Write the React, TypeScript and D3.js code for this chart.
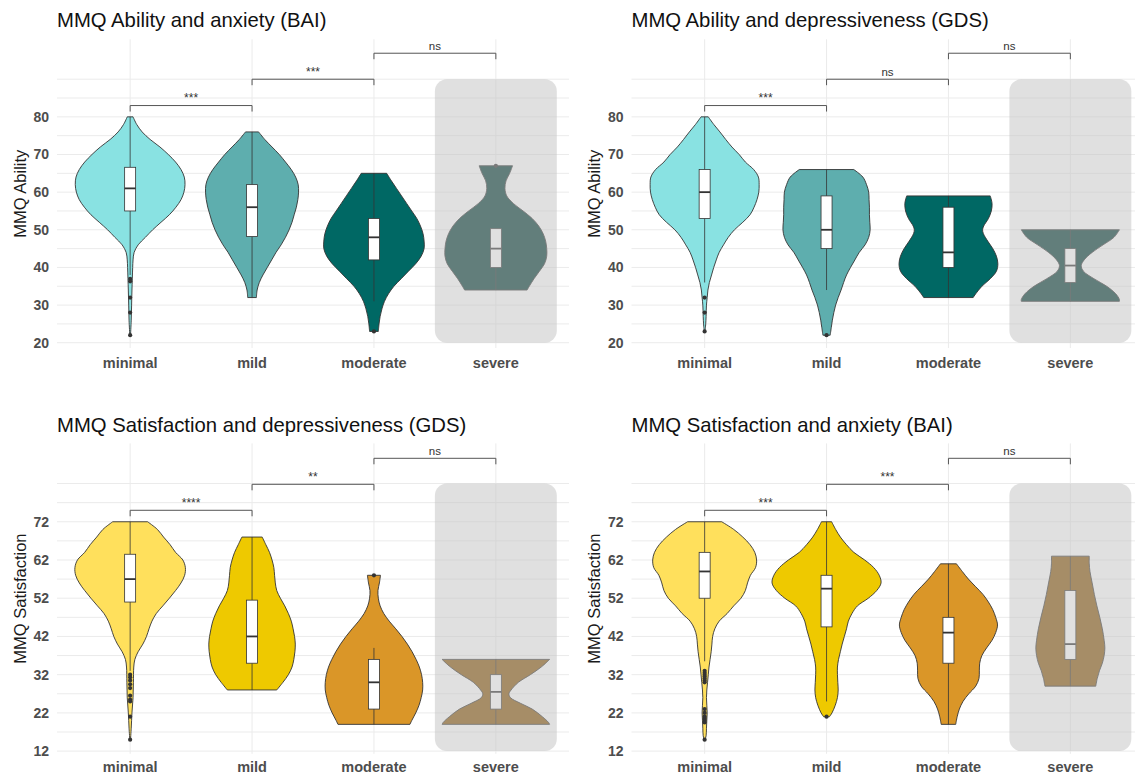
import React from "react";
import * as d3 from "d3";

const categories = ["minimal", "mild", "moderate", "severe"];

const abilityTicks = [20, 30, 40, 50, 60, 70, 80];
const abilityGrid = [20, 25, 30, 35, 40, 45, 50, 55, 60, 65, 70, 75, 80, 85, 90];
const satisfactionTicks = [12, 22, 32, 42, 52, 62, 72];
const satisfactionGrid = [12, 17, 22, 27, 32, 37, 42, 47, 52, 57, 62, 67, 72, 77, 82];

const tealPalette = ["#89E2E2", "#5EAEAE", "#006864", "#023A34"];
const goldPalette = ["#FFE05C", "#EEC900", "#DA9628", "#8A580C"];

// violin outlines: [score, half-width (density units)]
const abilityBAIViolins: [number, number][][] = [
  [[80,8],[78,18],[76,33],[74,55],[72,82],[70,105],[68,125],[66,140],[64,149],[62,151],[60,148],[58,140],[56,126],[54,108],[52,85],[50,62],[48,42],[46,22],[44,11],[42,8],[40,7],[37,6],[34,5],[30,4],[26,3],[22,1]],
  [[76,18],[74,35],[72,55],[70,75],[68,92],[66,108],[64,120],[62,127],[60,128],[58,126],[56,122],[54,116],[52,110],[50,102],[48,92],[46,80],[44,66],[42,54],[40,42],[38,30],[36,20],[34,14],[32,12]],
  [[65,35],[63,48],[61,62],[59,76],[57,90],[55,104],[53,118],[51,128],[49,135],[47,138],[45,138],[43,130],[41,115],[39,95],[37,75],[35,55],[33,40],[31,29],[29,22],[27,17],[25,14],[23,12]],
  [[67,46],[65,38],[63,28],[61,25],[59,30],[57,48],[55,75],[53,100],[51,118],[49,130],[47,137],[45,140],[43,140],[41,134],[39,120],[37,105],[35,92],[34,86]],
];
const abilityBAIBoxes = [
  [38, 55, 61, 66.6, 80],
  [32, 48.2, 56, 62, 76],
  [31, 42, 48, 53, 65],
  [34, 40, 45, 50.3, 50.3],
];
const abilityBAIOutliers = [[37, 36.3, 32, 28, 22], [], [23], [67]];
const abilityBAISignif = ["***", "***", "ns"];

const abilityGDSViolins: [number, number][][] = [
  [[80,10],[78,25],[76,42],[74,58],[72,75],[70,95],[68,112],[66,135],[64,148],[62,150],[60,149],[58,144],[56,136],[54,125],[52,105],[50,82],[48,65],[46,52],[44,40],[42,32],[40,25],[38,19],[36,13],[34,9],[32,7],[30,5],[27,4],[25,3],[23,1]],
  [[66,75],[64,100],[62,110],[60,116],[58,117],[56,118],[54,118],[52,119],[50,120],[48,116],[46,106],[44,90],[42,78],[40,66],[38,55],[36,47],[34,40],[32,32],[30,25],[28,20],[26,16],[24,13],[22,10]],
  [[59,115],[57,120],[55,118],[53,110],[51,97],[50,94],[49,96],[47,108],[45,122],[43,132],[41,136],[39,132],[37,115],[35,92],[33,75],[32,68]],
  [[50,135],[48,120],[46,90],[44,60],[42,38],[40.5,30],[39,36],[37,65],[35,100],[33,125],[31.5,135],[31,135]],
];
const abilityGDSBoxes = [
  [36, 53, 60, 66, 80],
  [34, 45, 50, 59, 66],
  [32, 40, 44, 56, 59],
  [31, 36, 40.5, 45, 50],
];
const abilityGDSOutliers = [[32, 28, 23], [22], [], []];
const abilityGDSSignif = ["***", "ns", "ns"];

const satisfactionGDSViolins: [number, number][][] = [
  [[72,48],[70,75],[68,92],[66,110],[64,125],[62,145],[60,152],[58,150],[56,140],[54,125],[52,108],[50,90],[48,72],[46,60],[44,52],[42,45],[40,35],[38,22],[36,13],[34,10],[30,9],[26,8],[22,5],[18,3],[15,1]],
  [[68,28],[66,38],[64,48],[62,55],[60,60],[58,62],[56,64],[54,68],[52,78],[50,90],[48,100],[46,108],[44,113],[42,117],[40,119],[38,118],[36,115],[34,110],[32,100],[30,85],[28,68]],
  [[58,18],[56,15],[54,11],[52,12],[50,17],[48,27],[46,42],[44,60],[42,77],[40,92],[38,105],[36,116],[34,125],[32,131],[30,134],[28,134],[26,130],[24,124],[22,115],[20,104],[19,99]],
  [[36,148],[34,125],[32,95],[30,62],[28,42],[27,36],[26,40],[24.5,68],[23,100],[21,128],[19.5,145],[19,148]],
];
const satisfactionGDSBoxes = [
  [33, 51, 57, 63.5, 72],
  [28, 35, 42, 51.5, 68],
  [19, 23, 30, 36, 39],
  [19, 23, 27.5, 32, 36],
];
const satisfactionGDSOutliers = [[32, 31.3, 30.5, 29.5, 28.5, 26.5, 25.5, 25, 21, 15], [], [58], []];
const satisfactionGDSSignif = ["****", "**", "ns"];

const satisfactionBAIViolins: [number, number][][] = [
  [[72,47],[70,80],[68,105],[66,125],[64,138],[62,143],[60,140],[58,126],[56,118],[54,112],[52,100],[50,80],[48,62],[46,40],[44,28],[42,22],[40,20],[38,18],[36,15],[34,12],[32,10],[30,8],[28,6],[26,5],[24,6],[22,7],[20,6],[18,5],[16,4],[15,1]],
  [[72,14],[70,25],[68,38],[66,55],[64,75],[62,105],[60,130],[58,145],[56,150],[54,138],[52,115],[50,85],[48,70],[46,60],[44,55],[42,49],[40,43],[38,38],[36,33],[34,30],[32,30],[30,31],[28,32],[26,30],[24,24],[22,15],[21,8]],
  [[61,22],[59,38],[57,55],[55,75],[53,95],[51,110],[49,122],[47,130],[45,135],[43,130],[41,120],[39,105],[37,92],[35,86],[33,85],[31,84],[29,75],[27,56],[25,40],[23,30],[21,24],[19,20]],
  [[63,52],[61,52],[59,54],[56,60],[53,66],[50,73],[47,81],[44,88],[41,93],[39,95],[37,93],[35,88],[33,80],[31,74],[29,70]],
];
const satisfactionBAIBoxes = [
  [35.5, 52, 59, 64, 72],
  [25, 44.5, 54.5, 58, 72],
  [19, 35, 43, 47, 61],
  [29, 36, 40, 54, 63],
];
const satisfactionBAIOutliers = [[33, 32.5, 32, 31.5, 31, 30.5, 30, 23, 22, 21, 20.5, 20, 19.5, 15], [21], [], []];
const satisfactionBAISignif = ["***", "***", "ns"];

const abilityBracketY = [83, 90, 96.9];
const satisfactionBracketY = [75, 81.8, 88.6];
const abilityShade = [20, 90];
const satisfactionShade = [12, 82];

const FONT = "'Liberation Sans', Arial, Helvetica, sans-serif";

type PanelProps = {
  dx: number;
  title: string;
  yLabel: string;
  titleY: number;
  top: number;
  bottom: number;
  domain: [number, number];
  labelY: number;
  ticks: number[];
  grid: number[];
  palette: string[];
  violins: [number, number][][];
  boxes: number[][];
  outliers: number[][];
  signif: string[];
  bracketY: number[];
  shade: number[];
};

function Panel(p: PanelProps) {
  const left = 57 + p.dx;
  const right = 569 + p.dx;
  const x = d3.scalePoint<string>().domain(categories).range([left, right]).padding(0.6);
  const y = d3.scaleLinear().domain(p.domain).range([p.bottom, p.top]);
  const step = x.step();
  const w = d3.scaleLinear().domain([0, 335.5]).range([0, step]);
  const boxHalf = 5.5;

  return (
    <g>
      <text x={left} y={p.titleY} fontFamily={FONT} fontSize={20.3} fill="#111">{p.title}</text>
      {p.grid.map((g) => (
        <line key={"h" + g} x1={left} x2={right} y1={y(g)} y2={y(g)} stroke="#ebebeb" strokeWidth={1} />
      ))}
      {categories.map((c) => (
        <line key={"v" + c} x1={x(c)} x2={x(c)} y1={p.top} y2={p.bottom} stroke="#ebebeb" strokeWidth={1} />
      ))}
      {p.ticks.map((t) => (
        <text key={"t" + t} x={left - 8} y={y(t)} dy="0.35em" textAnchor="end" fontFamily={FONT} fontSize={14} fontWeight="bold" fill="#4d4d4d">{t}</text>
      ))}
      {categories.map((c) => (
        <text key={"l" + c} x={x(c)} y={p.labelY} textAnchor="middle" fontFamily={FONT} fontSize={14.5} fontWeight="bold" fill="#4d4d4d">{c}</text>
      ))}
      <text transform={`translate(${25.6 + p.dx},${(p.top + p.bottom) / 2}) rotate(-90)`} textAnchor="middle" fontFamily={FONT} fontSize={16.5} fill="#1a1a1a">{p.yLabel}</text>
      {categories.map((c, i) => {
        const cx = x(c) as number;
        const area = d3.area<[number, number]>()
          .x0((d) => cx - w(d[1]))
          .x1((d) => cx + w(d[1]))
          .y((d) => y(d[0]))
          .curve(d3.curveCatmullRom.alpha(0.5));
        const [lo, q1, med, q3, hi] = p.boxes[i];
        return (
          <g key={"vio" + c}>
            <path d={area(p.violins[i]) || ""} fill={p.palette[i]} stroke="#333" strokeWidth={0.9} />
            <line x1={cx} x2={cx} y1={y(q3)} y2={y(hi)} stroke="#333" strokeWidth={0.8} />
            <line x1={cx} x2={cx} y1={y(q1)} y2={y(lo)} stroke="#333" strokeWidth={0.8} />
            <rect x={cx - boxHalf} y={y(q3)} width={boxHalf * 2} height={y(q1) - y(q3)} fill="#fff" stroke="#333" strokeWidth={0.8} />
            <line x1={cx - boxHalf} x2={cx + boxHalf} y1={y(med)} y2={y(med)} stroke="#333" strokeWidth={1.8} />
            {p.outliers[i].map((o, j) => (
              <circle key={j} cx={cx} cy={y(o)} r={2.1} fill="#333" />
            ))}
          </g>
        );
      })}
      <rect
        x={(x("severe") as number) - step / 2}
        y={y(p.shade[1])}
        width={step}
        height={y(p.shade[0]) - y(p.shade[1])}
        rx={12}
        ry={12}
        fill="#c2c2c2"
        fillOpacity={0.5}
      />
      {p.signif.map((s, i) => {
        const x1 = x(categories[i]) as number;
        const x2 = x(categories[i + 1]) as number;
        const by = y(p.bracketY[i]);
        return (
          <g key={"b" + i}>
            <path d={`M${x1},${by + 6}V${by}H${x2}V${by + 6}`} fill="none" stroke="#555" strokeWidth={1} />
            <text x={(x1 + x2) / 2} y={by - 3.3} textAnchor="middle" fontFamily={FONT} fontSize={s === "ns" ? 11.5 : 12} fill="#333">{s}</text>
          </g>
        );
      })}
    </g>
  );
}

export default function App() {
  const row1 = { titleY: 27, top: 39.3, bottom: 348, domain: [18.6, 100.6] as [number, number], labelY: 368 };
  const row2 = { titleY: 432, top: 443.4, bottom: 753.8, domain: [11.3, 92.5] as [number, number], labelY: 771.5 };
  return (
    <div style={{ position: "fixed", left: 0, top: 0, width: 1135, height: 774, background: "#fff" }}>
      <svg width={1135} height={774} style={{ display: "block" }}>
        <rect width={1135} height={774} fill="#fff" />
        <Panel dx={0} title="MMQ Ability and anxiety (BAI)" yLabel="MMQ Ability" {...row1}
          ticks={abilityTicks} grid={abilityGrid} palette={tealPalette}
          violins={abilityBAIViolins} boxes={abilityBAIBoxes} outliers={abilityBAIOutliers}
          signif={abilityBAISignif} bracketY={abilityBracketY} shade={abilityShade} />
        <Panel dx={574.5} title="MMQ Ability and depressiveness (GDS)" yLabel="MMQ Ability" {...row1}
          ticks={abilityTicks} grid={abilityGrid} palette={tealPalette}
          violins={abilityGDSViolins} boxes={abilityGDSBoxes} outliers={abilityGDSOutliers}
          signif={abilityGDSSignif} bracketY={abilityBracketY} shade={abilityShade} />
        <Panel dx={0} title="MMQ Satisfaction and depressiveness (GDS)" yLabel="MMQ Satisfaction" {...row2}
          ticks={satisfactionTicks} grid={satisfactionGrid} palette={goldPalette}
          violins={satisfactionGDSViolins} boxes={satisfactionGDSBoxes} outliers={satisfactionGDSOutliers}
          signif={satisfactionGDSSignif} bracketY={satisfactionBracketY} shade={satisfactionShade} />
        <Panel dx={574.5} title="MMQ Satisfaction and anxiety (BAI)" yLabel="MMQ Satisfaction" {...row2}
          ticks={satisfactionTicks} grid={satisfactionGrid} palette={goldPalette}
          violins={satisfactionBAIViolins} boxes={satisfactionBAIBoxes} outliers={satisfactionBAIOutliers}
          signif={satisfactionBAISignif} bracketY={satisfactionBracketY} shade={satisfactionShade} />
      </svg>
    </div>
  );
}
